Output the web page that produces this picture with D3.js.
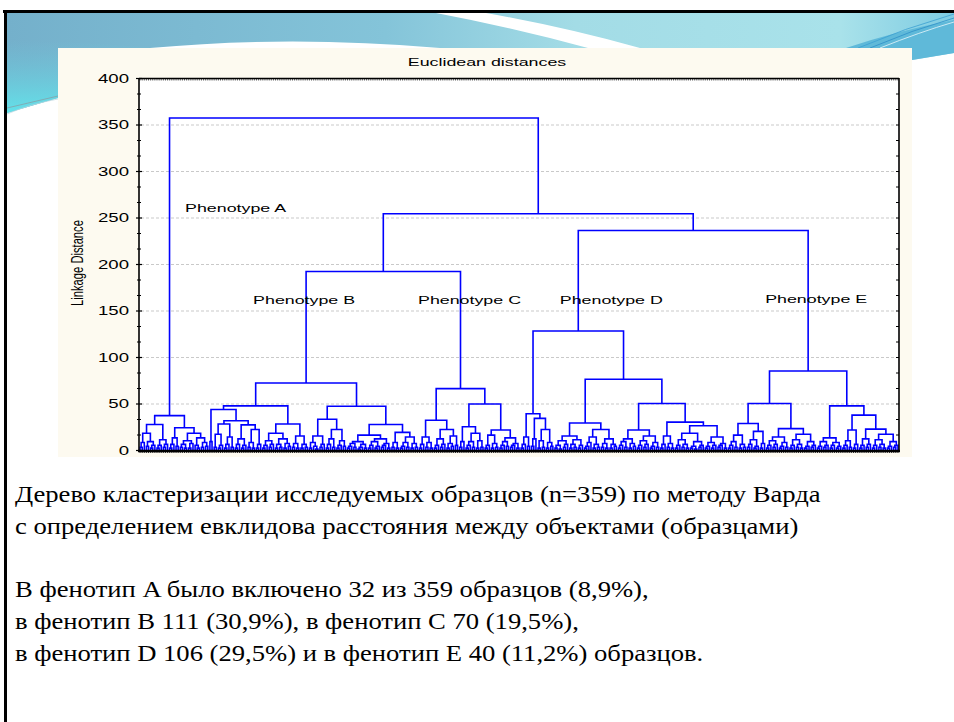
<!DOCTYPE html>
<html>
<head>
<meta charset="utf-8">
<script src="https://cdn.jsdelivr.net/npm/d3@7"></script>
<style>
html, body { margin: 0; padding: 0; background: #fff; }
svg { display: block; }
</style>
</head>
<body>
<svg id="slide" width="954" height="722"></svg>
<script>
// ---------- data ----------
var yTicks = [0, 50, 100, 150, 200, 250, 300, 350, 400];
var chartTitle = "Euclidean distances";
var yTitle = "Linkage Distance";
var phenotypes = ["Phenotype A", "Phenotype B", "Phenotype C", "Phenotype D", "Phenotype E"];

// sub-trees: "(left right)h" = merge at linkage distance h, "o" = one sample
var treeA = "( ( ( ((oo)3o)8 ((oo)4((oo)2o)5)9 )18 ( ((oo)2o)5 ((oo)3o)6 )11 )27.5 ( ( ((oo)2o)6 (oo)4 )13 ( ( ((oo)3(oo)2)6 ((oo)2o)7 )10 ( (o(oo)2)5 ((oo)3(oo)4)8 )13 )18 )24 )37";
var treeB = "( ( ( (oo)9 ( ( ((oo)3((oo)2o)5)17 (((oo)2o)6(oo)3)14 )28 ( ( ((oo)2o)6 ((oo)2o)5 )12 ( ((oo)3(oo)2)8 ((oo)2o)6 )22 )27 )31.4 )43.6 ( ( ( ((oo)2o)5 ((oo)3o)6 )10 ( ((oo)2(oo)3)6 ((oo)2(oo)4)7 )12 )18 ( ((oo)3(oo)2)7 ((oo)2(oo)3)6 )15 )28 )47.5 ( ( ( ((oo)2(o(oo)1)4)8 ((oo)3o)6 )15 ( ( ((oo)2o)6 (oo)3 )12 ( ((oo)2o)5 (oo)4 )10 )22 )33 ( ( ( ( ((oo)2o)4 (oo)3 )7 ( ((oo)1o)3 (oo)2 )6 )9 ( ( ((oo)2o)5 ((oo)2o)4 )9 ( ((oo)3o)5 (oo)2 )7 )12 )16 ( ((oo)3(oo)2)8 ( ( ((oo)2o)4 (oo)3 )8 ((oo)2(oo)3)7 )14 )19 )27.5 )47 )72";
var treeC = "( ( ( ((oo)2o)6 ((oo)3(oo)2)8 )14 ( ( ((oo)2o)5 ((oo)3o)6 )12 ( ((oo)2(oo)4)7 (oo)5 )15 )22 )32 ( ( ((oo)3o)9 ( ( ((oo)2o)5 (oo)3 )9 ((oo)2(oo)3)10 )18 )25 ( ( ((oo)2o)5 ((oo)2(oo)3)7 )16 ( ( ((oo)2o)5 (oo)4 )9 ( ((oo)3o)5 (oo)2 )7 )13 )21.5 )49.5 )66";
var treeD = "( ( ( ((oo)2o)6 (oo)4 )14 ( ((oo)4o)12 ( ((oo)2(oo)3)10 ((oo)2(oo)4)8 )22 )34 )39 ( ( ( ( ((oo)2(oo)1)5 ((oo)3o)6 )10 ( ((oo)2(oo)3)6 ((oo)2o)5 )11 )15 ( ( ( ((oo)2o)4 o)8 ((oo)2(oo)3)6 )14 ( ((oo)3(oo)2)7 ((oo)2(oo)4)6 )12 )22 )29 ( ( ( ( ((oo)2o)5 (oo)3 )9 ((oo)2(oo)4)7 )12 ( ( ((oo)2o)5 ((oo)3o)6 )10 ( ((oo)2o)4 (oo)3 )8 )15 )21.5 ( ( ((oo)2o)6 ((oo)3(oo)2)7 )15 ( ( ( ((oo)2o)5 ((oo)3(oo)2)6 )11 ( ((oo)2(oo)1)4 ((oo)3o)5 )9 )18 ( ( ((oo)2o)4 ((oo)2o)5 )8 ( ((oo)3o)5 (oo)2 )7 )14 )26 )30 )50 )76 )128";
var treeE = "( ( ( ( ( ((oo)2o)5 (oo)3 )9 ((oo)2(oo)3)6 )16 ( ( ((oo)3o)6 ((oo)2o)4 )11 ((oo)2o)7 )20 )28.5 ( ( ( ((oo)2o)5 ((oo)3o)6 )10 ( ((oo)2o)4 (oo)3 )8 )14 ( ( ((oo)2o)5 ((oo)3(oo)2)6 )11 ( ((oo)2o)4 ((oo)3o)5 )9 )17 )23 )50 ( ( ( ((oo)2o)4 ((oo)3o)5 )9 ( ((oo)2o)5 ((oo)2o)4 )8 )13 ( ( ( ((oo)2o)5 (oo)3 )10 ((oo)2o)6 )21.5 ( ( ((oo)2o)5 ((oo)3o)6 )12 ( ( ((oo)2o)5 ((oo)3(oo)2)6 )11 ( ((oo)2o)4 ((oo)3o)5 )9 )17 )22.5 )37.5 )47.5 )85";
var subtrees = [treeA, treeB, treeC, treeD, treeE];

// top level joins
var joinBC = 192, joinDE = 236, joinBCDE = 254, joinRoot = 357;
var labelLevels = [255.5, 157.5, 157.5, 157.5, 158.5];

var caption = [
  "Дерево кластеризации исследуемых образцов (n=359) по методу Варда",
  "с определением евклидова расстояния между объектами (образцами)",
  "",
  "В фенотип A было включено 32 из 359 образцов (8,9%),",
  "в фенотип B 111 (30,9%), в фенотип C 70 (19,5%),",
  "в фенотип D 106 (29,5%) и в фенотип E 40 (11,2%) образцов."
];

// ---------- helpers ----------
function parseTree(s) {
  var i = 0;
  function skip() { while (s[i] === " ") i++; }
  function node() {
    skip();
    if (s[i] === "o") { i++; return {h: 0}; }
    if (s[i] !== "(") throw new Error("bad tree at " + i);
    i++;
    var kids = [];
    skip();
    while (s[i] !== ")") {
      if (i >= s.length) throw new Error("unclosed tree");
      kids.push(node());
      skip();
    }
    i++;
    var m = /^[0-9.]+/.exec(s.slice(i));
    if (!m) throw new Error("no height at " + i);
    i += m[0].length;
    return {h: +m[0], children: kids};
  }
  var t = node();
  skip();
  if (i !== s.length) throw new Error("trailing text at " + i);
  return t;
}

// ---------- layout ----------
var svg = d3.select("#slide");
var L = 139, R = 899, T = 78, B = 450;
var sx = 1.55;   // chart picture is stretched sideways
var chartFont = "Liberation Sans";
var serifFont = "Liberation Serif";

var y = d3.scaleLinear().domain([0, 400]).range([B, T]);

// ---------- slide decoration ----------
var defs = svg.append("defs");
var band = defs.append("linearGradient").attr("id", "band")
    .attr("x1", 0).attr("x2", 1).attr("y1", 0).attr("y2", 0);
band.append("stop").attr("offset", 0).attr("stop-color", "#74b0cb");
band.append("stop").attr("offset", 0.4).attr("stop-color", "#84c4d9");
band.append("stop").attr("offset", 0.6).attr("stop-color", "#a3dce6");
band.append("stop").attr("offset", 0.88).attr("stop-color", "#a9e2ea");
band.append("stop").attr("offset", 1).attr("stop-color", "#7dcbe2");
var teal = defs.append("linearGradient").attr("id", "teal")
    .attr("x1", 0).attr("x2", 0).attr("y1", 0).attr("y2", 1);
teal.append("stop").attr("offset", 0).attr("stop-color", "#6fc9dc").attr("stop-opacity", 0);
teal.append("stop").attr("offset", 1).attr("stop-color", "#62e2ea").attr("stop-opacity", 1);

svg.append("path")
    .attr("d", "M7,13 H954 V53 L912,60 V48 H58 V98 L7,113 Z")
    .attr("fill", "url(#band)");
svg.append("path")
    .attr("d", "M7,40 Q80,42 160,48 H58 V98 L7,113 Z")
    .attr("fill", "url(#teal)");
svg.append("path")
    .attr("d", "M150,48 Q290,35 440,48 Z")
    .attr("fill", "#ffffff");
svg.append("path")
    .attr("d", "M436,13 L486,13 Q565,27 640,48 L588,48 Q515,28 436,13 Z")
    .attr("fill", "#ffffff");
svg.append("path")
    .attr("d", "M846,48 Q900,30 954,20 V53 L912,60 V48 Z")
    .attr("fill", "#5fb9d9");
[["M858,48 Q905,28 954,14", "#3b9fd2"], ["M880,48 Q920,32 954,22", "#e8f6fa"], ["M870,48 Q912,30 954,18", "#2f8fc8"]]
  .forEach(function(p) {
    svg.append("path").attr("d", p[0]).attr("fill", "none").attr("stroke", p[1]).attr("stroke-width", 0.8);
  });
[["M7,108 L58,96", "#8a9aa0"], ["M7,114 Q30,104 58,99", "#b7d6de"]]
  .forEach(function(p) {
    svg.append("path").attr("d", p[0]).attr("fill", "none").attr("stroke", p[1]).attr("stroke-width", 0.7);
  });

// slide frame
svg.append("line").attr("x1", 3).attr("x2", 954).attr("y1", 11.5).attr("y2", 11.5)
    .attr("stroke", "#000").attr("stroke-width", 3);
svg.append("line").attr("x1", 5.5).attr("x2", 5.5).attr("y1", 10).attr("y2", 722)
    .attr("stroke", "#000").attr("stroke-width", 3);

// chart panel
svg.append("rect").attr("x", 58).attr("y", 48).attr("width", 854).attr("height", 409)
    .attr("fill", "#fdfaf0");
svg.append("rect").attr("x", L).attr("y", T).attr("width", R - L).attr("height", B - T)
    .attr("fill", "#ffffff");

// grid
svg.append("g").selectAll("line")
  .data(yTicks.filter(function(v) { return v > 0 && v < 400; }))
  .join("line")
    .attr("x1", L + 2).attr("x2", R - 2)
    .attr("y1", function(d) { return y(d) + 0.5; })
    .attr("y2", function(d) { return y(d) + 0.5; })
    .attr("stroke", "#c9c9c9").attr("stroke-width", 1).attr("stroke-dasharray", "3,2");

// ---------- dendrogram ----------
var parts = subtrees.map(parseTree);
parts.forEach(function(p, k) { p.label = phenotypes[k]; });
var rootData = {h: joinRoot, children: [
  parts[0],
  {h: joinBCDE, children: [
    {h: joinBC, children: [parts[1], parts[2]]},
    {h: joinDE, children: [parts[3], parts[4]]}
  ]}
]};
var root = d3.hierarchy(rootData);
d3.cluster().size([R - L, 1]).separation(function() { return 1; })(root);

var p = d3.path();
root.each(function(n) {
  if (!n.children) return;
  var yy = y(n.data.h);
  var xs = n.children.map(function(c) { return c.x + L; });
  p.moveTo(d3.min(xs), yy);
  p.lineTo(d3.max(xs), yy);
  n.children.forEach(function(c) {
    p.moveTo(c.x + L, yy);
    p.lineTo(c.x + L, y(c.data.h));
  });
});
svg.append("path").attr("d", p.toString())
    .attr("fill", "none").attr("stroke", "#0000ff").attr("stroke-width", 1.6)
    .attr("stroke-linecap", "square");

// ---------- frame and axes ----------
var leaves = root.leaves();
var frame = svg.append("g").attr("stroke", "#000");
frame.selectAll("line.tt").data(leaves).join("line").attr("class", "tt")
    .attr("x1", function(d) { return d.x + L; }).attr("x2", function(d) { return d.x + L; })
    .attr("y1", T).attr("y2", T + 2.5).attr("stroke-width", 0.8).attr("stroke", "#333");
frame.selectAll("line.bt").data(leaves).join("line").attr("class", "bt")
    .attr("x1", function(d) { return d.x + L; }).attr("x2", function(d) { return d.x + L; })
    .attr("y1", B).attr("y2", B + 3).attr("stroke-width", 0.8);
frame.append("line").attr("x1", L).attr("x2", R).attr("y1", T + 0.5).attr("y2", T + 0.5).attr("stroke-width", 1.4);
frame.append("line").attr("x1", L - 1).attr("x2", R + 1).attr("y1", B + 1).attr("y2", B + 1).attr("stroke-width", 2.6);
frame.append("line").attr("x1", L).attr("x2", L).attr("y1", T).attr("y2", B + 2).attr("stroke-width", 1.6);
frame.append("line").attr("x1", R).attr("x2", R).attr("y1", T).attr("y2", B + 2).attr("stroke-width", 1.6);

var minorTicks = d3.range(0, 400, 50 / 3).filter(function(v) { return Math.abs(v % 50) > 1 && Math.abs(v % 50 - 50) > 1; });

var leftAxis = svg.append("g").attr("transform", "translate(" + L + ",0)")
    .call(d3.axisLeft(y).tickValues(yTicks).tickSize(3).tickSizeOuter(0).tickPadding(7));
leftAxis.select(".domain").remove();
leftAxis.selectAll(".tick line").attr("x2", -3).attr("x1", 3).attr("stroke-width", 1.2);
leftAxis.selectAll(".tick text")
    .attr("x", -10 / sx).attr("dy", "0.36em")
    .attr("transform", "scale(" + sx + ",1)")
    .attr("font-family", null).attr("font-size", null)
    .style("font-family", chartFont).style("font-size", "12px").attr("fill", "#000");

var leftMinor = svg.append("g").attr("transform", "translate(" + L + ",0)")
    .call(d3.axisLeft(y).tickValues(minorTicks).tickSize(2).tickSizeOuter(0).tickFormat(""));
leftMinor.select(".domain").remove();
leftMinor.selectAll(".tick line").attr("x1", 2);

var rightAxis = svg.append("g").attr("transform", "translate(" + R + ",0)")
    .call(d3.axisLeft(y).tickValues(yTicks.concat(minorTicks)).tickSize(3).tickSizeOuter(0).tickFormat(""));
rightAxis.select(".domain").remove();

// ---------- texts ----------
svg.append("text")
    .attr("transform", "translate(487,65.5) scale(" + sx + ",1)")
    .attr("text-anchor", "middle")
    .style("font-family", chartFont).style("font-size", "11.5px")
    .text(chartTitle);
svg.append("text")
    .attr("transform", "translate(83,263) scale(" + sx + ",1) rotate(-90)")
    .attr("text-anchor", "middle")
    .style("font-family", chartFont).style("font-size", "11.2px")
    .text(yTitle);

var labelDx = [66, -2, 9, 33, 8];
var phenoNodes = [];
root.each(function(n) { if (n.data.label) phenoNodes.push(n); });
svg.append("g").selectAll("text").data(phenoNodes).join("text")
    .attr("transform", function(d, k) {
      return "translate(" + (d.x + L + labelDx[k]) + "," + y(labelLevels[k]) + ") scale(" + sx + ",1)";
    })
    .attr("text-anchor", "middle")
    .style("font-family", chartFont).style("font-size", "11.5px")
    .text(function(d) { return d.data.label; });

// caption below the chart (Times-like, slightly widened as on the slide)
var capLines = svg.append("g").selectAll("text").data(caption).join("text")
    .attr("fill", "#000")
    .style("font-family", serifFont)
    .style("font-size", "24px")
    .text(function(d) { return d; });
var w0 = capLines.node().getComputedTextLength();
var kx = w0 > 0 ? 806 / w0 : 1;
capLines.attr("transform", function(d, k) {
  return "translate(15," + (502 + k * 31.8) + ") scale(" + kx + ",1)";
});
</script>
</body>
</html>
